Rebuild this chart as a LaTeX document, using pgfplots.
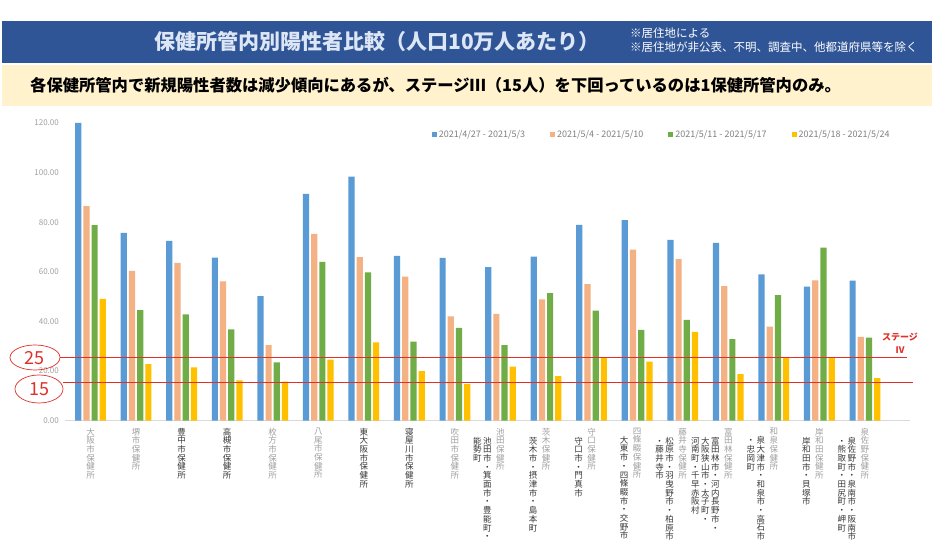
\documentclass[border=0pt]{standalone}
\usepackage{fontspec}
\setmainfont{Noto Sans CJK JP}
\usepackage{pgfplots}
\pgfplotsset{compat=1.18}
\definecolor{cA}{HTML}{5B9BD5}
\definecolor{cB}{HTML}{F4B183}
\definecolor{cC}{HTML}{70AD47}
\definecolor{cD}{HTML}{FFC000}
\definecolor{banner}{HTML}{2F5597}
\definecolor{titlecol}{HTML}{DCE6F4}
\definecolor{cream}{HTML}{FFF2CC}
\definecolor{redl}{HTML}{E0302A}
\definecolor{lg}{HTML}{A0A0A0}
\definecolor{dk}{HTML}{383838}
\def\vtloop#1{\ifx\relax#1\else\hbox to 10pt{\hss#1\hss}\expandafter\vtloop\fi}
\newcommand\vcol[1]{\vtop{\baselineskip=8.7pt\lineskiplimit=-100pt\lineskip=0pt\vtloop#1\relax}}
\newcommand\G[1]{\textcolor{lg}{\vcol{#1}}}
\newcommand\D[1]{\textcolor{dk}{\vcol{#1}}}
\newcommand\Bc[1]{\lower9pt\vcol{#1}}
\newcommand\M[2]{\hbox{\llap{\color{dk}#2\kern3pt}\textcolor{lg}{\vcol{#1}}}}
\begin{document}
\begin{tikzpicture}[x=1pt,y=1pt]
\fill[white] (0,0) rectangle (934,545);
\fill[banner] (2,482) rectangle (932,524);
\node[text=titlecol, font=\fontsize{21}{23}\selectfont\bfseries] at (377,503) {保健所管内別陽性者比較（人口10万人あたり）};
\node[anchor=west, text=white, font=\fontsize{11.5}{13}\selectfont, inner sep=0pt] at (630,512) {※居住地による};
\node[anchor=west, text=white, font=\fontsize{11.5}{13}\selectfont, inner sep=0pt] at (630,498) {※居住地が非公表、不明、調査中、他都道府県等を除く};
\fill[cream] (2,439) rectangle (932,480);
\node[anchor=west, inner sep=0pt, font=\fontsize{16.3}{18}\selectfont\bfseries] at (30,459.5) {各保健所管内で新規陽性者数は減少傾向にあるが、ステージⅢ（15人）を下回っているのは1保健所管内のみ。};
\begin{axis}[
  at={(65pt,124.3pt)}, anchor=south west,
  scale only axis, width=845pt, height=297.7pt,
  xmin=-0.56, xmax=17.99, ymin=0, ymax=120,
  clip=false,
  ybar=2pt, bar width=6.2pt,
  axis x line*=bottom, axis y line*=left,
  axis line style={-},
  x axis line style={draw=black!15, line width=0.8pt},
  y axis line style={draw=none},
  major tick length=0pt,
  ytick={0,20,...,120},
  yticklabel style={text=lg, font=\fontsize{8}{9}\selectfont, anchor=east, inner sep=0pt, xshift=-6pt,
    /pgf/number format/fixed, /pgf/number format/fixed zerofill, /pgf/number format/precision=2,
    /pgf/number format/assume math mode=true},
  xtick={0,...,17},
  xticklabel style={anchor=north, inner sep=0pt, yshift=-7pt, font=\fontsize{8.5}{8.7}\selectfont},
  xticklabels={\G{大阪市保健所},\G{堺市保健所},\D{豊中市保健所},\D{高槻市保健所},\G{枚方市保健所},\G{八尾市保健所},\D{東大阪市保健所},\D{寝屋川市保健所},\G{吹田市保健所},
    \M{池田保健所}{\Bc{能勢町}\Bc{池田市・箕面市・豊能町・}},
    \M{茨木保健所}{\Bc{茨木市・摂津市・島本町}},
    \M{守口保健所}{\Bc{守口市・門真市}},
    \M{四條畷保健所}{\Bc{大東市・四條畷市・交野市}},
    \M{藤井寺保健所}{\Bc{・藤井寺市}\Bc{松原市・羽曳野市・柏原市}},
    \M{富田林保健所}{\Bc{河南町・千早赤阪村}\Bc{大阪狭山市・太子町・}\Bc{富田林市・河内長野市・}},
    \M{和泉保健所}{\Bc{・忠岡町}\Bc{泉大津市・和泉市・高石市}},
    \M{岸和田保健所}{\Bc{岸和田市・貝塚市}},
    \M{泉佐野保健所}{\Bc{・熊取町・田尻町・岬町}\Bc{泉佐野市・泉南市・阪南市}}},
  legend style={at={(0.434,0.96)}, anchor=west, draw=none, fill=none, font=\fontsize{9}{10}\selectfont, text=black!50,
    legend columns=4, /tikz/every even column/.append style={column sep=23pt}, inner sep=0pt},
  legend cell align=left,
  legend image code/.code={\fill[#1] (0pt,-2.5pt) rectangle (5pt,2.5pt);},
]
\addplot[fill=cA, draw=none] coordinates {(0,120.0) (1,75.7) (2,72.5) (3,65.7) (4,50.2) (5,91.4) (6,98.4) (7,66.4) (8,65.6) (9,61.9) (10,66.1) (11,78.9) (12,80.8) (13,72.9) (14,71.7) (15,59.0) (16,54.0) (17,56.5)};
\addplot[fill=cB, draw=none] coordinates {(0,86.5) (1,60.4) (2,63.6) (3,56.2) (4,30.5) (5,75.3) (6,65.9) (7,58.1) (8,42.1) (9,43.1) (10,48.9) (11,55.1) (12,69.0) (13,65.1) (14,54.2) (15,37.9) (16,56.6) (17,33.8)};
\addplot[fill=cC, draw=none] coordinates {(0,78.8) (1,44.6) (2,42.9) (3,36.8) (4,23.5) (5,64.0) (6,59.8) (7,31.9) (8,37.4) (9,30.5) (10,51.4) (11,44.4) (12,36.6) (13,40.6) (14,32.9) (15,50.6) (16,69.8) (17,33.5)};
\addplot[fill=cD, draw=none] coordinates {(0,49.1) (1,22.8) (2,21.5) (3,16.3) (4,15.7) (5,24.6) (6,31.6) (7,20.0) (8,14.7) (9,21.8) (10,18.0) (11,25.6) (12,23.8) (13,35.8) (14,18.8) (15,25.6) (16,25.6) (17,17.2)};
\legend{2021/4/27 - 2021/5/3, 2021/5/4 - 2021/5/10, 2021/5/11 - 2021/5/17, 2021/5/18 - 2021/5/24}
\draw[redl, line width=0.7pt] (axis cs:-0.67,25.4) -- (axis cs:17.92,25.4);
\draw[redl, line width=0.7pt] (axis cs:-0.60,15.6) -- (axis cs:18.05,15.6);
\end{axis}
\draw[redl, line width=0.7pt] (35,187.5) ellipse (25 and 12.5);
\node[text=redl, font=\fontsize{18}{18}\selectfont] at (34.5,187) {25};
\draw[redl, line width=0.7pt] (39,156) ellipse (24 and 14);
\node[text=redl, font=\fontsize{18}{18}\selectfont] at (39,156) {15};
\node[text=redl, font=\fontsize{9}{10}\selectfont\bfseries, inner sep=0pt] at (900,207.5) {ステージ};
\node[text=redl, font=\fontsize{9}{10}\selectfont\bfseries, inner sep=0pt] at (900,195) {Ⅳ};
\end{tikzpicture}
\end{document}
